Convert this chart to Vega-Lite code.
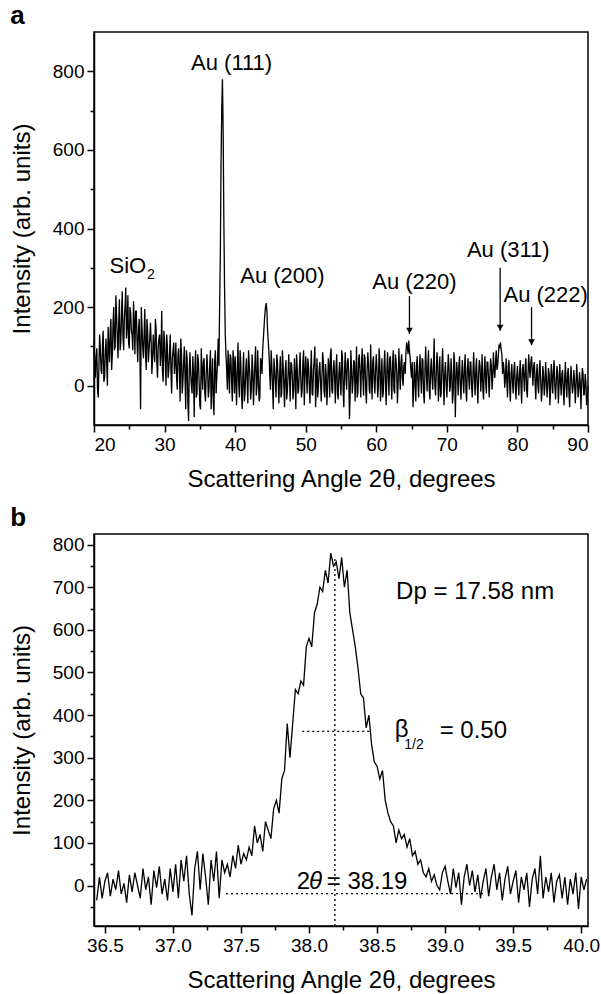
{
  "$schema": "https://vega.github.io/schema/vega-lite/v6.json",
  "background": "white",
  "padding": {"left": 9, "top": 2, "right": 0, "bottom": 0},
  "spacing": 109,
  "bounds": "flush",
  "config": {
    "font": "Liberation Sans",
    "view": {"stroke": "black", "strokeWidth": 1.5},
    "axis": {"domainColor": "black", "domainWidth": 1.5, "tickColor": "black", "tickWidth": 1.5, "tickSize": 7, "labelColor": "black", "titleColor": "black", "grid": false, "labelFont": "Liberation Sans", "titleFont": "Liberation Sans", "labelFontSize": 19, "titleFontSize": 24, "titleFontWeight": "normal", "labelPadding": 3},
    "title": {"anchor": "start", "fontSize": 26, "fontWeight": "bold", "font": "Liberation Sans", "color": "black", "dx": 0, "offset": 3},
    "text": {"font": "Liberation Sans", "color": "black"}
  },
  "datasets": {
    "specA": [
      {"x":20.0,"y":110},{"x":20.2,"y":20},{"x":20.4,"y":95},{"x":20.6,"y":-30},{"x":20.8,"y":130},{"x":21.0,"y":40},{"x":21.2,"y":105},{"x":21.4,"y":10},{"x":21.6,"y":85},{"x":21.8,"y":60},
      {"x":22.0,"y":150},{"x":22.2,"y":60},{"x":22.4,"y":170},{"x":22.6,"y":80},{"x":22.8,"y":200},{"x":23.0,"y":100},{"x":23.2,"y":180},{"x":23.4,"y":70},{"x":23.6,"y":220},{"x":23.8,"y":110},
      {"x":24.0,"y":240},{"x":24.2,"y":90},{"x":24.4,"y":200},{"x":24.6,"y":120},{"x":24.8,"y":230},{"x":25.0,"y":95},{"x":25.2,"y":185},{"x":25.4,"y":130},{"x":25.6,"y":215},{"x":25.8,"y":80},
      {"x":26.0,"y":190},{"x":26.2,"y":60},{"x":26.4,"y":170},{"x":26.6,"y":-60},{"x":26.8,"y":150},{"x":27.0,"y":70},{"x":27.2,"y":195},{"x":27.4,"y":40},{"x":27.6,"y":140},{"x":27.8,"y":90},
      {"x":28.0,"y":160},{"x":28.2,"y":30},{"x":28.4,"y":130},{"x":28.6,"y":60},{"x":28.8,"y":145},{"x":29.0,"y":20},{"x":29.2,"y":120},{"x":29.4,"y":50},{"x":29.6,"y":190},{"x":29.8,"y":10},
      {"x":30.0,"y":115},{"x":30.2,"y":0},{"x":30.4,"y":100},{"x":30.6,"y":40},{"x":30.8,"y":130},{"x":31.0,"y":-20},{"x":31.2,"y":90},{"x":31.4,"y":30},{"x":31.6,"y":110},{"x":31.8,"y":-10},
      {"x":32.0,"y":95},{"x":32.2,"y":-40},{"x":32.4,"y":80},{"x":32.6,"y":10},{"x":32.8,"y":100},{"x":33.0,"y":-60},{"x":33.2,"y":70},{"x":33.4,"y":-90},{"x":33.6,"y":85},{"x":33.8,"y":0},
      {"x":34.0,"y":75},{"x":34.2,"y":-80},{"x":34.4,"y":90},{"x":34.6,"y":-20},{"x":34.8,"y":60},{"x":35.0,"y":-50},{"x":35.2,"y":95},{"x":35.4,"y":-10},{"x":35.6,"y":70},{"x":35.8,"y":-40},
      {"x":36.0,"y":80},{"x":36.2,"y":-30},{"x":36.4,"y":55},{"x":36.6,"y":-60},{"x":36.8,"y":70},{"x":37.0,"y":-75},{"x":37.2,"y":90},{"x":37.4,"y":20},{"x":37.6,"y":120},{"x":37.8,"y":200},
      {"x":38.0,"y":560},{"x":38.1,"y":700},{"x":38.2,"y":780},{"x":38.3,"y":650},{"x":38.4,"y":420},{"x":38.6,"y":130},{"x":38.8,"y":40},{"x":39.0,"y":90},{"x":39.2,"y":-20},{"x":39.4,"y":70},{"x":39.6,"y":-40},{"x":39.8,"y":60},
      {"x":40.0,"y":75},{"x":40.2,"y":-50},{"x":40.4,"y":110},{"x":40.6,"y":-30},{"x":40.8,"y":60},{"x":41.0,"y":-60},{"x":41.2,"y":85},{"x":41.4,"y":-20},{"x":41.6,"y":70},{"x":41.8,"y":-45},
      {"x":42.0,"y":55},{"x":42.2,"y":-35},{"x":42.4,"y":80},{"x":42.6,"y":-50},{"x":42.8,"y":60},{"x":43.0,"y":-25},{"x":43.2,"y":90},{"x":43.4,"y":-40},{"x":43.6,"y":70},{"x":43.8,"y":30},
      {"x":44.0,"y":120},{"x":44.2,"y":180},{"x":44.4,"y":210},{"x":44.6,"y":140},{"x":44.8,"y":80},{"x":45.0,"y":-10},{"x":45.2,"y":50},{"x":45.4,"y":-60},{"x":45.6,"y":40},{"x":45.8,"y":-30},
      {"x":46.0,"y":60},{"x":46.2,"y":-45},{"x":46.4,"y":75},{"x":46.6,"y":-20},{"x":46.8,"y":50},{"x":47.0,"y":-55},{"x":47.2,"y":65},{"x":47.4,"y":-15},{"x":47.6,"y":80},{"x":47.8,"y":-40},
      {"x":48.0,"y":55},{"x":48.2,"y":-35},{"x":48.4,"y":70},{"x":48.6,"y":-60},{"x":48.8,"y":45},{"x":49.0,"y":-10},{"x":49.2,"y":85},{"x":49.4,"y":-30},{"x":49.6,"y":60},{"x":49.8,"y":-50},
      {"x":50.0,"y":75},{"x":50.2,"y":-20},{"x":50.4,"y":50},{"x":50.6,"y":-45},{"x":50.8,"y":90},{"x":51.0,"y":-25},{"x":51.2,"y":65},{"x":51.4,"y":-55},{"x":51.6,"y":70},{"x":51.8,"y":-5},
      {"x":52.0,"y":60},{"x":52.2,"y":-40},{"x":52.4,"y":85},{"x":52.6,"y":-15},{"x":52.8,"y":55},{"x":53.0,"y":-50},{"x":53.2,"y":70},{"x":53.4,"y":-30},{"x":53.6,"y":95},{"x":53.8,"y":-20},
      {"x":54.0,"y":65},{"x":54.2,"y":-45},{"x":54.4,"y":80},{"x":54.6,"y":-35},{"x":54.8,"y":60},{"x":55.0,"y":-25},{"x":55.2,"y":75},{"x":55.4,"y":-55},{"x":55.6,"y":85},{"x":55.8,"y":-10},
      {"x":56.0,"y":70},{"x":56.2,"y":-85},{"x":56.4,"y":90},{"x":56.6,"y":-20},{"x":56.8,"y":65},{"x":57.0,"y":-40},{"x":57.2,"y":100},{"x":57.4,"y":-15},{"x":57.6,"y":80},{"x":57.8,"y":-30},
      {"x":58.0,"y":95},{"x":58.2,"y":-25},{"x":58.4,"y":70},{"x":58.6,"y":-45},{"x":58.8,"y":85},{"x":59.0,"y":-10},{"x":59.2,"y":105},{"x":59.4,"y":-35},{"x":59.6,"y":75},{"x":59.8,"y":-20},
      {"x":60.0,"y":80},{"x":60.2,"y":-30},{"x":60.4,"y":95},{"x":60.6,"y":-40},{"x":60.8,"y":70},{"x":61.0,"y":-15},{"x":61.2,"y":90},{"x":61.4,"y":-50},{"x":61.6,"y":85},{"x":61.8,"y":-25},
      {"x":62.0,"y":75},{"x":62.2,"y":-35},{"x":62.4,"y":90},{"x":62.6,"y":-20},{"x":62.8,"y":65},{"x":63.0,"y":-45},{"x":63.2,"y":95},{"x":63.4,"y":-10},{"x":63.6,"y":80},{"x":63.8,"y":0},
      {"x":64.0,"y":60},{"x":64.2,"y":85},{"x":64.4,"y":100},{"x":64.6,"y":115},{"x":64.8,"y":70},{"x":65.0,"y":20},{"x":65.2,"y":-55},{"x":65.4,"y":60},{"x":65.6,"y":-40},{"x":65.8,"y":75},
      {"x":66.0,"y":-30},{"x":66.2,"y":80},{"x":66.4,"y":-20},{"x":66.6,"y":65},{"x":66.8,"y":-45},{"x":67.0,"y":100},{"x":67.2,"y":-15},{"x":67.4,"y":90},{"x":67.6,"y":-35},{"x":67.8,"y":70},
      {"x":68.0,"y":-10},{"x":68.2,"y":120},{"x":68.4,"y":-25},{"x":68.6,"y":85},{"x":68.8,"y":-40},{"x":69.0,"y":75},{"x":69.2,"y":-20},{"x":69.4,"y":95},{"x":69.6,"y":-50},{"x":69.8,"y":60},
      {"x":70.0,"y":-30},{"x":70.2,"y":80},{"x":70.4,"y":-15},{"x":70.6,"y":70},{"x":70.8,"y":-45},{"x":71.0,"y":85},{"x":71.2,"y":-80},{"x":71.4,"y":60},{"x":71.6,"y":-25},{"x":71.8,"y":75},
      {"x":72.0,"y":-35},{"x":72.2,"y":65},{"x":72.4,"y":-20},{"x":72.6,"y":80},{"x":72.8,"y":-40},{"x":73.0,"y":70},{"x":73.2,"y":-10},{"x":73.4,"y":60},{"x":73.6,"y":-30},{"x":73.8,"y":85},
      {"x":74.0,"y":-25},{"x":74.2,"y":70},{"x":74.4,"y":-45},{"x":74.6,"y":65},{"x":74.8,"y":-15},{"x":75.0,"y":80},{"x":75.2,"y":-35},{"x":75.4,"y":75},{"x":75.6,"y":-20},{"x":75.8,"y":60},
      {"x":76.0,"y":-30},{"x":76.2,"y":70},{"x":76.4,"y":-10},{"x":76.6,"y":85},{"x":76.8,"y":20},{"x":77.0,"y":90},{"x":77.2,"y":50},{"x":77.4,"y":105},{"x":77.6,"y":110},{"x":77.8,"y":80},
      {"x":78.0,"y":60},{"x":78.2,"y":-5},{"x":78.4,"y":70},{"x":78.6,"y":-30},{"x":78.8,"y":65},{"x":79.0,"y":-40},{"x":79.2,"y":55},{"x":79.4,"y":-20},{"x":79.6,"y":60},{"x":79.8,"y":-35},
      {"x":80.0,"y":50},{"x":80.2,"y":-25},{"x":80.4,"y":65},{"x":80.6,"y":-45},{"x":80.8,"y":55},{"x":81.0,"y":-15},{"x":81.2,"y":70},{"x":81.4,"y":-30},{"x":81.6,"y":80},{"x":81.8,"y":20},
      {"x":82.0,"y":75},{"x":82.2,"y":0},{"x":82.4,"y":60},{"x":82.6,"y":-35},{"x":82.8,"y":55},{"x":83.0,"y":-20},{"x":83.2,"y":65},{"x":83.4,"y":-40},{"x":83.6,"y":50},{"x":83.8,"y":-25},
      {"x":84.0,"y":60},{"x":84.2,"y":-30},{"x":84.4,"y":45},{"x":84.6,"y":-50},{"x":84.8,"y":55},{"x":85.0,"y":-20},{"x":85.2,"y":65},{"x":85.4,"y":-35},{"x":85.6,"y":50},{"x":85.8,"y":-45},
      {"x":86.0,"y":55},{"x":86.2,"y":-25},{"x":86.4,"y":40},{"x":86.6,"y":-50},{"x":86.8,"y":60},{"x":87.0,"y":-30},{"x":87.2,"y":45},{"x":87.4,"y":-55},{"x":87.6,"y":50},{"x":87.8,"y":-20},
      {"x":88.0,"y":40},{"x":88.2,"y":-45},{"x":88.4,"y":55},{"x":88.6,"y":-30},{"x":88.8,"y":35},{"x":89.0,"y":-60},{"x":89.2,"y":45},{"x":89.4,"y":-25},{"x":89.6,"y":30},{"x":89.8,"y":-50},
      {"x":90.0,"y":0},
      {"x":20.1,"y":60},{"x":20.3,"y":75},{"x":20.5,"y":-10},{"x":20.7,"y":50},{"x":20.9,"y":90},{"x":21.1,"y":30},{"x":21.3,"y":140},{"x":21.5,"y":20},{"x":21.7,"y":120},{"x":21.9,"y":0},
      {"x":22.1,"y":100},{"x":22.3,"y":140},{"x":22.5,"y":40},{"x":22.7,"y":160},{"x":22.9,"y":90},{"x":23.1,"y":230},{"x":23.3,"y":120},{"x":23.5,"y":160},{"x":23.7,"y":90},{"x":23.9,"y":180},
      {"x":24.1,"y":130},{"x":24.3,"y":170},{"x":24.5,"y":250},{"x":24.7,"y":150},{"x":24.9,"y":110},{"x":25.1,"y":200},{"x":25.3,"y":140},{"x":25.5,"y":90},{"x":25.7,"y":160},{"x":25.9,"y":190},
      {"x":26.1,"y":110},{"x":26.3,"y":140},{"x":26.5,"y":90},{"x":26.7,"y":200},{"x":26.9,"y":100},{"x":27.1,"y":130},{"x":27.3,"y":80},{"x":27.5,"y":170},{"x":27.7,"y":60},{"x":27.9,"y":120},
      {"x":28.1,"y":110},{"x":28.3,"y":70},{"x":28.5,"y":90},{"x":28.7,"y":170},{"x":28.9,"y":60},{"x":29.1,"y":100},{"x":29.3,"y":130},{"x":29.5,"y":90},{"x":29.7,"y":40},{"x":29.9,"y":140},
      {"x":30.1,"y":60},{"x":30.3,"y":130},{"x":30.5,"y":20},{"x":30.7,"y":80},{"x":30.9,"y":40},{"x":31.1,"y":70},{"x":31.3,"y":110},{"x":31.5,"y":60},{"x":31.7,"y":20},{"x":31.9,"y":80},
      {"x":32.1,"y":40},{"x":32.3,"y":120},{"x":32.5,"y":-20},{"x":32.7,"y":60},{"x":32.9,"y":20},{"x":33.1,"y":90},{"x":33.3,"y":-40},{"x":33.5,"y":40},{"x":33.7,"y":30},{"x":33.9,"y":-20},
      {"x":34.1,"y":30},{"x":34.3,"y":50},{"x":34.5,"y":-30},{"x":34.7,"y":80},{"x":34.9,"y":10},{"x":35.1,"y":-60},{"x":35.3,"y":40},{"x":35.5,"y":60},{"x":35.7,"y":-20},{"x":35.9,"y":30},
      {"x":36.1,"y":40},{"x":36.3,"y":-10},{"x":36.5,"y":90},{"x":36.7,"y":10},{"x":36.9,"y":-40},{"x":37.1,"y":60},{"x":37.3,"y":-20},{"x":37.5,"y":60},{"x":37.7,"y":50},{"x":37.9,"y":330},
      {"x":38.5,"y":250},{"x":38.7,"y":80},{"x":38.9,"y":-10},{"x":39.1,"y":40},{"x":39.3,"y":80},{"x":39.5,"y":10},{"x":39.7,"y":90},{"x":39.9,"y":-20},
      {"x":40.1,"y":20},{"x":40.3,"y":40},{"x":40.5,"y":10},{"x":40.7,"y":90},{"x":40.9,"y":-20},{"x":41.1,"y":30},{"x":41.3,"y":-40},{"x":41.5,"y":40},{"x":41.7,"y":10},{"x":41.9,"y":90},
      {"x":42.1,"y":20},{"x":42.3,"y":-10},{"x":42.5,"y":40},{"x":42.7,"y":10},{"x":42.9,"y":100},{"x":43.1,"y":0},{"x":43.3,"y":20},{"x":43.5,"y":-30},{"x":43.7,"y":60},{"x":43.9,"y":90},
      {"x":44.1,"y":150},{"x":44.3,"y":200},{"x":44.5,"y":190},{"x":44.7,"y":110},{"x":44.9,"y":30},{"x":45.1,"y":90},{"x":45.3,"y":0},{"x":45.5,"y":70},{"x":45.7,"y":10},{"x":45.9,"y":80},
      {"x":46.1,"y":10},{"x":46.3,"y":30},{"x":46.5,"y":-30},{"x":46.7,"y":90},{"x":46.9,"y":0},{"x":47.1,"y":40},{"x":47.3,"y":-35},{"x":47.5,"y":30},{"x":47.7,"y":20},{"x":47.9,"y":60},
      {"x":48.1,"y":20},{"x":48.3,"y":-10},{"x":48.5,"y":30},{"x":48.7,"y":80},{"x":48.9,"y":-20},{"x":49.1,"y":40},{"x":49.3,"y":20},{"x":49.5,"y":-10},{"x":49.7,"y":90},{"x":49.9,"y":30},
      {"x":50.1,"y":30},{"x":50.3,"y":70},{"x":50.5,"y":0},{"x":50.7,"y":40},{"x":50.9,"y":-20},{"x":51.1,"y":40},{"x":51.3,"y":100},{"x":51.5,"y":10},{"x":51.7,"y":-30},{"x":51.9,"y":40},
      {"x":52.1,"y":10},{"x":52.3,"y":20},{"x":52.5,"y":60},{"x":52.7,"y":-30},{"x":52.9,"y":30},{"x":53.1,"y":0},{"x":53.3,"y":50},{"x":53.5,"y":80},{"x":53.7,"y":-10},{"x":53.9,"y":40},
      {"x":54.1,"y":20},{"x":54.3,"y":50},{"x":54.5,"y":-20},{"x":54.7,"y":30},{"x":54.9,"y":10},{"x":55.1,"y":90},{"x":55.3,"y":-10},{"x":55.5,"y":40},{"x":55.7,"y":20},{"x":55.9,"y":60},
      {"x":56.1,"y":30},{"x":56.3,"y":-20},{"x":56.5,"y":40},{"x":56.7,"y":10},{"x":56.9,"y":60},{"x":57.1,"y":20},{"x":57.3,"y":-30},{"x":57.5,"y":70},{"x":57.7,"y":30},{"x":57.9,"y":50},
      {"x":58.1,"y":20},{"x":58.3,"y":80},{"x":58.5,"y":-10},{"x":58.7,"y":40},{"x":58.9,"y":50},{"x":59.1,"y":-20},{"x":59.3,"y":30},{"x":59.5,"y":60},{"x":59.7,"y":10},{"x":59.9,"y":40},
      {"x":60.1,"y":40},{"x":60.3,"y":0},{"x":60.5,"y":60},{"x":60.7,"y":20},{"x":60.9,"y":-30},{"x":61.1,"y":50},{"x":61.3,"y":10},{"x":61.5,"y":40},{"x":61.7,"y":20},{"x":61.9,"y":70},
      {"x":62.1,"y":20},{"x":62.3,"y":50},{"x":62.5,"y":-10},{"x":62.7,"y":80},{"x":62.9,"y":30},{"x":63.1,"y":10},{"x":63.3,"y":40},{"x":63.5,"y":60},{"x":63.7,"y":20},{"x":63.9,"y":50},
      {"x":64.1,"y":30},{"x":64.3,"y":110},{"x":64.5,"y":80},{"x":64.7,"y":90},{"x":64.9,"y":40},{"x":65.1,"y":60},{"x":65.3,"y":-10},{"x":65.5,"y":20},{"x":65.7,"y":50},{"x":65.9,"y":10},
      {"x":66.1,"y":40},{"x":66.3,"y":20},{"x":66.5,"y":70},{"x":66.7,"y":-20},{"x":66.9,"y":40},{"x":67.1,"y":30},{"x":67.3,"y":50},{"x":67.5,"y":-10},{"x":67.7,"y":40},{"x":67.9,"y":20},
      {"x":68.1,"y":50},{"x":68.3,"y":0},{"x":68.5,"y":30},{"x":68.7,"y":60},{"x":68.9,"y":10},{"x":69.1,"y":-30},{"x":69.3,"y":50},{"x":69.5,"y":20},{"x":69.7,"y":30},{"x":69.9,"y":10},
      {"x":70.1,"y":20},{"x":70.3,"y":50},{"x":70.5,"y":0},{"x":70.7,"y":30},{"x":70.9,"y":-20},{"x":71.1,"y":60},{"x":71.3,"y":10},{"x":71.5,"y":30},{"x":71.7,"y":50},{"x":71.9,"y":0},
      {"x":72.1,"y":30},{"x":72.3,"y":10},{"x":72.5,"y":50},{"x":72.7,"y":-10},{"x":72.9,"y":40},{"x":73.1,"y":20},{"x":73.3,"y":60},{"x":73.5,"y":0},{"x":73.7,"y":30},{"x":73.9,"y":20},
      {"x":74.1,"y":40},{"x":74.3,"y":0},{"x":74.5,"y":30},{"x":74.7,"y":50},{"x":74.9,"y":20},{"x":75.1,"y":-10},{"x":75.3,"y":40},{"x":75.5,"y":10},{"x":75.7,"y":60},{"x":75.9,"y":20},
      {"x":76.1,"y":30},{"x":76.3,"y":50},{"x":76.5,"y":20},{"x":76.7,"y":40},{"x":76.9,"y":60},{"x":77.1,"y":40},{"x":77.3,"y":80},{"x":77.5,"y":100},{"x":77.7,"y":90},{"x":77.9,"y":30},
      {"x":78.1,"y":40},{"x":78.3,"y":20},{"x":78.5,"y":10},{"x":78.7,"y":50},{"x":78.9,"y":0},{"x":79.1,"y":30},{"x":79.3,"y":10},{"x":79.5,"y":40},{"x":79.7,"y":0},{"x":79.9,"y":20},
      {"x":80.1,"y":10},{"x":80.3,"y":30},{"x":80.5,"y":0},{"x":80.7,"y":40},{"x":80.9,"y":20},{"x":81.1,"y":50},{"x":81.3,"y":-10},{"x":81.5,"y":30},{"x":81.7,"y":40},{"x":81.9,"y":60},
      {"x":82.1,"y":40},{"x":82.3,"y":50},{"x":82.5,"y":10},{"x":82.7,"y":30},{"x":82.9,"y":0},{"x":83.1,"y":40},{"x":83.3,"y":10},{"x":83.5,"y":-10},{"x":83.7,"y":30},{"x":83.9,"y":0},
      {"x":84.1,"y":20},{"x":84.3,"y":0},{"x":84.5,"y":30},{"x":84.7,"y":-10},{"x":84.9,"y":20},{"x":85.1,"y":40},{"x":85.3,"y":0},{"x":85.5,"y":10},{"x":85.7,"y":30},{"x":85.9,"y":0},
      {"x":86.1,"y":10},{"x":86.3,"y":30},{"x":86.5,"y":-10},{"x":86.7,"y":20},{"x":86.9,"y":0},{"x":87.1,"y":30},{"x":87.3,"y":-20},{"x":87.5,"y":20},{"x":87.7,"y":10},{"x":87.9,"y":0},
      {"x":88.1,"y":10},{"x":88.3,"y":0},{"x":88.5,"y":20},{"x":88.7,"y":-10},{"x":88.9,"y":10},{"x":89.1,"y":0},{"x":89.3,"y":30},{"x":89.5,"y":-20},{"x":89.7,"y":10},{"x":89.9,"y":-30}
    ],
    "arrowsA": [
      {"peak":"Au (220)","x":64.7,"y":228,"y2":132,"ytip":140},
      {"peak":"Au (311)","x":77.55,"y":300,"y2":140,"ytip":148},
      {"peak":"Au (222)","x":82.0,"y":200,"y2":103,"ytip":111}
    ],
    "labelsA": [
      {"label":"Au (111)","x":39.5,"y":820},
      {"label":"Au (200)","x":46.7,"y":280},
      {"label":"Au (220)","x":65.4,"y":263},
      {"label":"Au (311)","x":78.7,"y":345},
      {"label":"Au (222)","x":84.0,"y":230}
    ],
    "sioA": [{"label":"SiO","x":22.2,"y":305}],
    "subA": [{"label":"2","x":27.5,"y":282}],
    "specB": [
      {"x":36.44,"y":-35},{"x":36.46,"y":20},{"x":36.48,"y":-30},{"x":36.50,"y":10},{"x":36.52,"y":30},{"x":36.54,"y":-25},{"x":36.56,"y":15},{"x":36.58,"y":-10},{"x":36.60,"y":35},{"x":36.62,"y":-20},
      {"x":36.64,"y":5},{"x":36.66,"y":-40},{"x":36.68,"y":25},{"x":36.70,"y":-15},{"x":36.72,"y":30},{"x":36.74,"y":0},{"x":36.76,"y":-30},{"x":36.78,"y":40},{"x":36.80,"y":-10},{"x":36.82,"y":20},
      {"x":36.84,"y":-45},{"x":36.86,"y":35},{"x":36.88,"y":-5},{"x":36.90,"y":45},{"x":36.92,"y":-20},{"x":36.94,"y":15},{"x":36.96,"y":-35},{"x":36.98,"y":40},{"x":37.00,"y":-15},{"x":37.02,"y":50},
      {"x":37.04,"y":-30},{"x":37.06,"y":60},{"x":37.08,"y":10},{"x":37.10,"y":70},{"x":37.12,"y":-20},{"x":37.14,"y":-70},{"x":37.16,"y":40},{"x":37.18,"y":80},{"x":37.20,"y":-10},{"x":37.22,"y":75},
      {"x":37.24,"y":20},{"x":37.26,"y":-45},{"x":37.28,"y":60},{"x":37.30,"y":10},{"x":37.32,"y":80},{"x":37.34,"y":-30},{"x":37.36,"y":60},{"x":37.38,"y":30},{"x":37.40,"y":50},{"x":37.42,"y":20},
      {"x":37.44,"y":70},{"x":37.46,"y":40},{"x":37.48,"y":95},{"x":37.50,"y":50},{"x":37.52,"y":75},{"x":37.54,"y":60},{"x":37.56,"y":90},{"x":37.58,"y":70},{"x":37.60,"y":140},{"x":37.62,"y":100},
      {"x":37.64,"y":120},{"x":37.66,"y":80},{"x":37.68,"y":150},{"x":37.70,"y":130},{"x":37.72,"y":110},{"x":37.74,"y":180},{"x":37.76,"y":200},{"x":37.78,"y":170},{"x":37.80,"y":250},{"x":37.82,"y":270},
      {"x":37.84,"y":380},{"x":37.86,"y":300},{"x":37.88,"y":380},{"x":37.90,"y":460},{"x":37.92,"y":450},{"x":37.94,"y":480},{"x":37.96,"y":470},{"x":37.98,"y":560},{"x":38.00,"y":580},{"x":38.02,"y":560},
      {"x":38.04,"y":640},{"x":38.06,"y":660},{"x":38.08,"y":700},{"x":38.10,"y":690},{"x":38.12,"y":740},{"x":38.14,"y":710},{"x":38.16,"y":780},{"x":38.18,"y":750},{"x":38.20,"y":760},{"x":38.22,"y":720},
      {"x":38.24,"y":770},{"x":38.26,"y":700},{"x":38.28,"y":740},{"x":38.30,"y":640},{"x":38.32,"y":600},{"x":38.34,"y":560},{"x":38.36,"y":510},{"x":38.38,"y":450},{"x":38.40,"y":440},{"x":38.42,"y":370},
      {"x":38.44,"y":400},{"x":38.46,"y":330},{"x":38.48,"y":290},{"x":38.50,"y":280},{"x":38.52,"y":250},{"x":38.54,"y":270},{"x":38.56,"y":200},{"x":38.58,"y":170},{"x":38.60,"y":150},{"x":38.62,"y":140},
      {"x":38.64,"y":100},{"x":38.66,"y":130},{"x":38.68,"y":110},{"x":38.70,"y":120},{"x":38.72,"y":90},{"x":38.74,"y":110},{"x":38.76,"y":70},{"x":38.78,"y":80},{"x":38.80,"y":50},{"x":38.82,"y":60},
      {"x":38.84,"y":30},{"x":38.86,"y":20},{"x":38.88,"y":40},{"x":38.90,"y":10},{"x":38.92,"y":25},{"x":38.94,"y":0},{"x":38.96,"y":-10},{"x":38.98,"y":30},{"x":39.00,"y":45},{"x":39.02,"y":10},
      {"x":39.04,"y":-20},{"x":39.06,"y":40},{"x":39.08,"y":-5},{"x":39.10,"y":30},{"x":39.12,"y":-45},{"x":39.14,"y":20},{"x":39.16,"y":50},{"x":39.18,"y":0},{"x":39.20,"y":35},{"x":39.22,"y":-15},
      {"x":39.24,"y":25},{"x":39.26,"y":-30},{"x":39.28,"y":10},{"x":39.30,"y":40},{"x":39.32,"y":-25},{"x":39.34,"y":20},{"x":39.36,"y":50},{"x":39.38,"y":-10},{"x":39.40,"y":30},{"x":39.42,"y":-35},
      {"x":39.44,"y":15},{"x":39.46,"y":45},{"x":39.48,"y":-20},{"x":39.50,"y":10},{"x":39.52,"y":35},{"x":39.54,"y":-40},{"x":39.56,"y":20},{"x":39.58,"y":-10},{"x":39.60,"y":30},{"x":39.62,"y":-50},
      {"x":39.64,"y":15},{"x":39.66,"y":40},{"x":39.68,"y":-20},{"x":39.70,"y":70},{"x":39.72,"y":-30},{"x":39.74,"y":20},{"x":39.76,"y":-15},{"x":39.78,"y":30},{"x":39.80,"y":-40},{"x":39.82,"y":10},
      {"x":39.84,"y":25},{"x":39.86,"y":-30},{"x":39.88,"y":20},{"x":39.90,"y":-45},{"x":39.92,"y":15},{"x":39.94,"y":-20},{"x":39.96,"y":30},{"x":39.98,"y":-55},{"x":40.00,"y":20},{"x":40.02,"y":-10},
      {"x":40.04,"y":15}
    ],
    "dottedB": [
      {"what":"peak position","x":38.19,"x2":38.19,"y":-95,"y2":770},
      {"what":"half maximum","x":37.95,"x2":38.45,"y":362,"y2":362},
      {"what":"baseline","x":37.39,"x2":39.30,"y":-19,"y2":-19}
    ],
    "labelsB": [
      {"label":"Dp = 17.58 nm","x":38.64,"y":690},
      {"label":"β","x":38.63,"y":366},
      {"label":"= 0.50","x":38.96,"y":363},
      {"label":"2","x":37.91,"y":8},
      {"label":"= 38.19","x":38.13,"y":8}
    ],
    "italicB": [{"label":"θ","x":38.0,"y":8}],
    "subB": [{"label":"1/2","x":38.70,"y":330}]
  },
  "vconcat": [
    {
      "width": 494,
      "height": 393,
      "title": {"text": "a"},
      "resolve": {"axis": {"x": "independent", "y": "independent"}},
      "layer": [
        {
          "data": {"name": "specA"},
          "mark": {"type": "line", "color": "black", "strokeWidth": 1.3},
          "encoding": {
            "x": {"field": "x", "type": "quantitative", "scale": {"domain": [20, 90], "nice": false, "zero": false},
                  "axis": {"values": [20, 30, 40, 50, 60, 70, 80, 90], "title": "Scattering Angle 2θ, degrees", "titlePadding": 13}},
            "y": {"field": "y", "type": "quantitative", "scale": {"domain": [-100, 900], "nice": false, "zero": false},
                  "axis": {"values": [0, 200, 400, 600, 800], "title": "Intensity (arb. units)", "titlePadding": 18}}
          }
        },
        {
          "data": {"name": "arrowsA"},
          "mark": {"type": "rule", "color": "black", "strokeWidth": 1.3},
          "encoding": {
            "x": {"field": "x", "type": "quantitative", "scale": {"domain": [20, 90], "nice": false, "zero": false},
                  "axis": {"values": [25, 35, 45, 55, 65, 75, 85], "labels": false, "tickSize": 4, "domain": false, "title": null, "orient": "bottom"}},
            "y": {"field": "y", "type": "quantitative", "scale": {"domain": [-100, 900], "nice": false, "zero": false},
                  "axis": {"values": [100, 300, 500, 700], "labels": false, "tickSize": 4, "domain": false, "title": null, "orient": "left"}},
            "y2": {"field": "y2"}
          }
        },
        {
          "data": {"name": "arrowsA"},
          "mark": {"type": "point", "shape": "triangle-down", "filled": true, "color": "black", "size": 45, "opacity": 1},
          "encoding": {
            "x": {"field": "x", "type": "quantitative", "scale": {"domain": [20, 90], "nice": false, "zero": false}, "axis": null},
            "y": {"field": "ytip", "type": "quantitative", "scale": {"domain": [-100, 900], "nice": false, "zero": false}, "axis": null}
          }
        },
        {
          "data": {"name": "labelsA"},
          "mark": {"type": "text", "fontSize": 22, "align": "center", "baseline": "middle"},
          "encoding": {
            "x": {"field": "x", "type": "quantitative", "scale": {"domain": [20, 90], "nice": false, "zero": false}, "axis": null},
            "y": {"field": "y", "type": "quantitative", "scale": {"domain": [-100, 900], "nice": false, "zero": false}, "axis": null},
            "text": {"field": "label"}
          }
        },
        {
          "data": {"name": "sioA"},
          "mark": {"type": "text", "fontSize": 22, "align": "left", "baseline": "middle"},
          "encoding": {
            "x": {"field": "x", "type": "quantitative", "scale": {"domain": [20, 90], "nice": false, "zero": false}, "axis": null},
            "y": {"field": "y", "type": "quantitative", "scale": {"domain": [-100, 900], "nice": false, "zero": false}, "axis": null},
            "text": {"field": "label"}
          }
        },
        {
          "data": {"name": "subA"},
          "mark": {"type": "text", "fontSize": 14, "align": "left", "baseline": "middle"},
          "encoding": {
            "x": {"field": "x", "type": "quantitative", "scale": {"domain": [20, 90], "nice": false, "zero": false}, "axis": null},
            "y": {"field": "y", "type": "quantitative", "scale": {"domain": [-100, 900], "nice": false, "zero": false}, "axis": null},
            "text": {"field": "label"}
          }
        }
      ]
    },
    {
      "width": 494,
      "height": 392,
      "title": {"text": "b"},
      "resolve": {"axis": {"x": "independent", "y": "independent"}},
      "layer": [
        {
          "data": {"name": "specB"},
          "mark": {"type": "line", "color": "black", "strokeWidth": 1.3},
          "encoding": {
            "x": {"field": "x", "type": "quantitative", "scale": {"domain": [36.42, 40.05], "nice": false, "zero": false},
                  "axis": {"values": [36.5, 37.0, 37.5, 38.0, 38.5, 39.0, 39.5, 40.0], "format": ".1f", "title": "Scattering Angle 2θ, degrees", "titlePadding": 13}},
            "y": {"field": "y", "type": "quantitative", "scale": {"domain": [-95, 825], "nice": false, "zero": false},
                  "axis": {"values": [0, 100, 200, 300, 400, 500, 600, 700, 800], "title": "Intensity (arb. units)", "titlePadding": 18}}
          }
        },
        {
          "data": {"name": "dottedB"},
          "mark": {"type": "rule", "color": "black", "strokeWidth": 1.3, "strokeDash": [2, 3]},
          "encoding": {
            "x": {"field": "x", "type": "quantitative", "scale": {"domain": [36.42, 40.05], "nice": false, "zero": false},
                  "axis": {"values": [36.75, 37.25, 37.75, 38.25, 38.75, 39.25, 39.75], "labels": false, "tickSize": 4, "domain": false, "title": null, "orient": "bottom"}},
            "x2": {"field": "x2"},
            "y": {"field": "y", "type": "quantitative", "scale": {"domain": [-95, 825], "nice": false, "zero": false},
                  "axis": {"values": [-50, 50, 150, 250, 350, 450, 550, 650, 750], "labels": false, "tickSize": 4, "domain": false, "title": null, "orient": "left"}},
            "y2": {"field": "y2"}
          }
        },
        {
          "data": {"name": "labelsB"},
          "mark": {"type": "text", "fontSize": 24, "align": "left", "baseline": "middle"},
          "encoding": {
            "x": {"field": "x", "type": "quantitative", "scale": {"domain": [36.42, 40.05], "nice": false, "zero": false}, "axis": null},
            "y": {"field": "y", "type": "quantitative", "scale": {"domain": [-95, 825], "nice": false, "zero": false}, "axis": null},
            "text": {"field": "label"}
          }
        },
        {
          "data": {"name": "italicB"},
          "mark": {"type": "text", "fontSize": 24, "fontStyle": "italic", "align": "left", "baseline": "middle"},
          "encoding": {
            "x": {"field": "x", "type": "quantitative", "scale": {"domain": [36.42, 40.05], "nice": false, "zero": false}, "axis": null},
            "y": {"field": "y", "type": "quantitative", "scale": {"domain": [-95, 825], "nice": false, "zero": false}, "axis": null},
            "text": {"field": "label"}
          }
        },
        {
          "data": {"name": "subB"},
          "mark": {"type": "text", "fontSize": 14, "align": "left", "baseline": "middle"},
          "encoding": {
            "x": {"field": "x", "type": "quantitative", "scale": {"domain": [36.42, 40.05], "nice": false, "zero": false}, "axis": null},
            "y": {"field": "y", "type": "quantitative", "scale": {"domain": [-95, 825], "nice": false, "zero": false}, "axis": null},
            "text": {"field": "label"}
          }
        }
      ]
    }
  ]
}
